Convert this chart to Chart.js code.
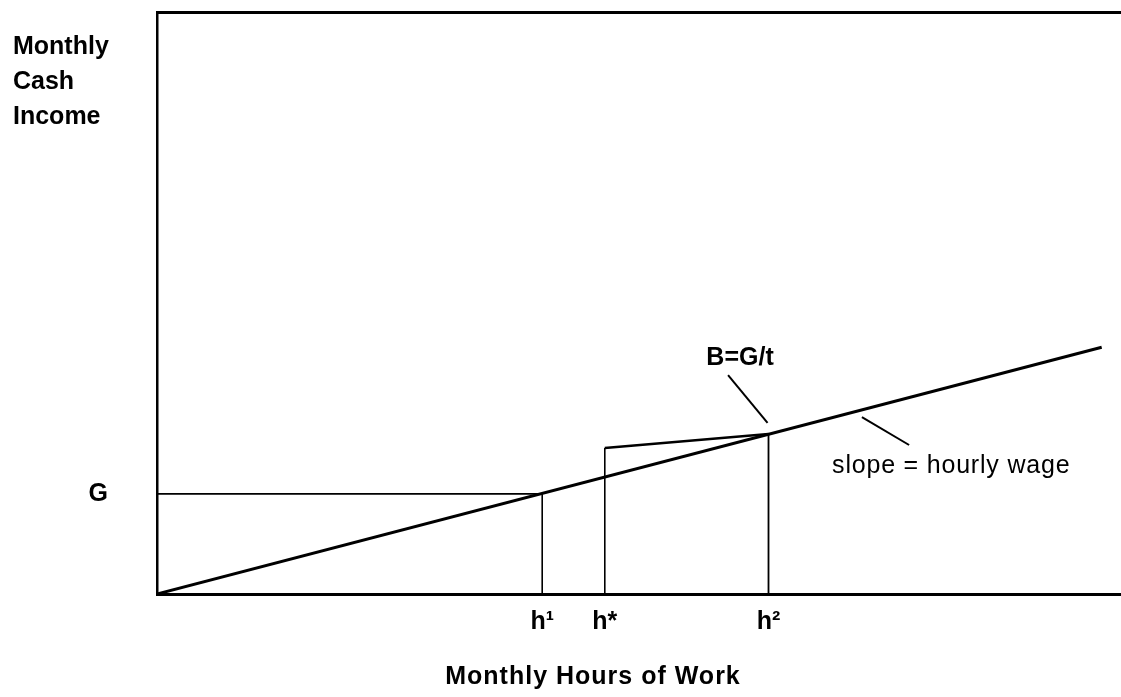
<!DOCTYPE html>
<html>
<head>
<meta charset="utf-8">
<script src="https://cdn.jsdelivr.net/npm/chart.js@4/dist/chart.umd.min.js"></script>
<style>
   body { margin: 0; background: #fff; }
   #wrap { width: 1121px; height: 697px; }
</style>
</head>
<body>
<div id="wrap"><canvas id="incomeChart" width="1121" height="697"></canvas></div>
<script>
// hours axis runs 0..1000, income axis 0..100 (arbitrary units)
const wageLineX = [0, 981];
const wageLineY = [0, 42.4];
const G = 17.2;            // guarantee level
const h1 = 400;            // where the wage line reaches G
const hStar = 465;
const hStarTop = 25.1;     // benefit + earnings at h*
const h2 = 635;            // break-even hours
const B = 27.5;            // break-even income B = G/t
const hTicks = [h1, hStar, h2];
const hTickLabels = ['h\u00B9', 'h*', 'h\u00B2'];
const yTicks = [G];
const yTickLabels = ['G'];
const bPointerX = [593, 634];
const bPointerY = [37.6, 29.4];
const slopePointerX = [732, 781];
const slopePointerY = [30.4, 25.6];

const yTitleLines = ['Monthly', 'Cash', 'Income'];
const xTitle = 'Monthly Hours of Work';
const bLabel = 'B=G/t';
const slopeLabel = 'slope = hourly wage';

function pts(xs, ys) {
   return xs.map((x, i) => ({ x: x, y: ys[i] }));
}

function seg(data, width) {
   return {
      data: data,
      showLine: true,
      borderColor: '#000',
      borderWidth: width,
      pointRadius: 0,
      fill: false,
      tension: 0
   };
}

const textPlugin = {
   id: 'textPlugin',
   afterDraw(chart) {
      const ctx = chart.ctx;
      const xs = chart.scales.x;
      const ys = chart.scales.y;
      ctx.save();
      ctx.fillStyle = '#000';
      ctx.textBaseline = 'middle';

      // y axis title, horizontal in the top left corner
      ctx.font = 'bold 25px "Liberation Sans", Arial, sans-serif';
      ctx.textAlign = 'left';
      yTitleLines.forEach((line, i) => ctx.fillText(line, 13, 47 + i * 35));

      // B=G/t above its leader line
      ctx.textAlign = 'center';
      ctx.fillText(bLabel, xs.getPixelForValue(bPointerX[0]) + 12, ys.getPixelForValue(bPointerY[0]) - 17);

      // x axis title (a bit wider spaced than the default font)
      ctx.letterSpacing = '1px';
      ctx.fillText(xTitle, 593, 677);

      // slope label below its leader line
      ctx.font = '25px "Liberation Sans", Arial, sans-serif';
      ctx.letterSpacing = '0.8px';
      ctx.textAlign = 'left';
      ctx.fillText(slopeLabel, xs.getPixelForValue(slopePointerX[1]) - 77, ys.getPixelForValue(slopePointerY[1]) + 21);
      ctx.restore();
   }
};

document.addEventListener('DOMContentLoaded', function () {
   const ctx = document.getElementById('incomeChart').getContext('2d');
   new Chart(ctx, {
      type: 'scatter',
      data: {
         datasets: [
            seg(pts(wageLineX, wageLineY), 3),
            seg([{ x: 0, y: G }, { x: h1, y: G }, { x: h1, y: 0 }], 1.6),
            seg([{ x: hStar, y: 0 }, { x: hStar, y: hStarTop }], 1.6),
            seg([{ x: hStar, y: hStarTop }, { x: h2, y: B }], 2.5),
            seg([{ x: h2, y: B }, { x: h2, y: 0 }], 1.8),
            seg(pts(bPointerX, bPointerY), 2),
            seg(pts(slopePointerX, slopePointerY), 2)
         ]
      },
      options: {
         responsive: false,
         animation: false,
         layout: { padding: { left: 0, top: 0, right: 1, bottom: 0 } },
         plugins: {
            legend: { display: false },
            tooltip: { enabled: false },
            title: { display: false }
         },
         scales: {
            x: {
               type: 'linear',
               position: 'bottom',
               min: 0,
               max: 1000,
               grid: { display: false, drawTicks: false },
               border: { display: true, color: '#000', width: 3 },
               afterBuildTicks: scale => { scale.ticks = hTicks.map(v => ({ value: v })); },
               afterFit: scale => {
                  scale.height = 103;
                  scale.paddingLeft = 0;
                  scale.paddingRight = 0;
               },
               ticks: {
                  autoSkip: false,
                  maxRotation: 0,
                  padding: 13,
                  color: '#000',
                  font: { family: '"Liberation Sans", Arial, sans-serif', size: 25, weight: 'bold' },
                  callback: value => hTickLabels[hTicks.indexOf(value)]
               }
            },
            x2: {
               type: 'linear',
               position: 'top',
               min: 0,
               max: 1000,
               grid: { display: false, drawTicks: false },
               border: { display: true, color: '#000', width: 3 },
               ticks: { display: false },
               afterFit: scale => {
                  scale.height = 12;
                  scale.paddingLeft = 0;
                  scale.paddingRight = 0;
               }
            },
            y: {
               type: 'linear',
               min: 0,
               max: 100,
               grid: { display: false, drawTicks: false },
               border: { display: true, color: '#000', width: 2.5 },
               afterBuildTicks: scale => { scale.ticks = yTicks.map(v => ({ value: v })); },
               afterFit: scale => {
                  scale.width = 157;
                  scale.paddingTop = 0;
                  scale.paddingBottom = 0;
               },
               ticks: {
                  autoSkip: false,
                  padding: 49,
                  color: '#000',
                  font: { family: '"Liberation Sans", Arial, sans-serif', size: 25, weight: 'bold' },
                  callback: value => yTickLabels[yTicks.indexOf(value)]
               }
            }
         }
      },
      plugins: [textPlugin]
   });
});
</script>
</body>
</html>
